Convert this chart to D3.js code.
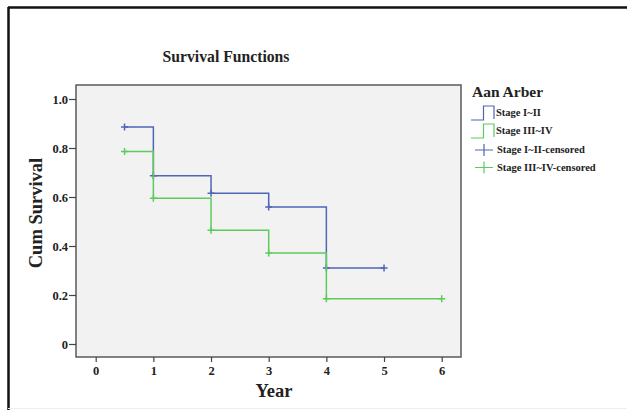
<!DOCTYPE html>
<html>
<head>
<meta charset="utf-8">
<script src="https://cdn.jsdelivr.net/npm/d3@7"></script>
<style>
  body { margin: 0; background: #fff; }
  text { font-family: "Liberation Serif", "Times New Roman", serif; font-weight: bold; fill: #222; }
</style>
</head>
<body>
<svg id="canvas" width="627" height="410"></svg>
<script>
// survival data
var stage12Years = [0.5, 1, 2, 3, 4, 5];
var stage12Surv = [0.886, 0.687, 0.615, 0.559, 0.31, 0.31];
var stage34Years = [0.5, 1, 2, 3, 4, 6];
var stage34Surv = [0.786, 0.595, 0.464, 0.371, 0.185, 0.185];
var xTicks = [0, 1, 2, 3, 4, 5, 6];
var yTicks = [0, 0.2, 0.4, 0.6, 0.8, 1.0];
var legendLabels = ["Stage I~II", "Stage III~IV", "Stage I~II-censored", "Stage III~IV-censored"];

var blue = "#4f66b4", green = "#5ccc5c";

var svg = d3.select("#canvas");

// outer frame (top + left only visible)
svg.append("line").attr("x1", 8).attr("x2", 627).attr("y1", 7.5).attr("y2", 7.5)
    .attr("stroke", "#111").attr("stroke-width", 2.5);
svg.append("line").attr("x1", 8.5).attr("x2", 8.5).attr("y1", 7).attr("y2", 410)
    .attr("stroke", "#111").attr("stroke-width", 2.5);
svg.append("line").attr("x1", 8).attr("x2", 627).attr("y1", 408.5).attr("y2", 408.5)
    .attr("stroke", "#eee").attr("stroke-width", 1);

var plot = {left: 76, right: 461, top: 85, bottom: 357};

var x = d3.scaleLinear().domain([0, 6]).range([95.7, 441.7]);
var y = d3.scaleLinear().domain([0, 1]).range([344, 99]);

svg.append("rect")
    .attr("x", plot.left).attr("y", plot.top)
    .attr("width", plot.right - plot.left).attr("height", plot.bottom - plot.top)
    .attr("fill", "#f2f2f2").attr("stroke", "#5a5a5a").attr("stroke-width", 1.5);

// axes
var yAxis = svg.append("g")
    .attr("transform", "translate(" + plot.left + ",0)")
    .call(d3.axisLeft(y).tickValues(yTicks).tickSize(7).tickPadding(1)
        .tickFormat(function(d) { return d === 0 ? "0" : d3.format(".1f")(d); }));
yAxis.select(".domain").remove();
yAxis.selectAll("line").attr("stroke", "#444").attr("stroke-width", 1.2);
yAxis.selectAll("text").style("font-size", "12.5px").attr("fill", "#222");

var xAxis = svg.append("g")
    .attr("transform", "translate(0," + plot.bottom + ")")
    .call(d3.axisBottom(x).tickValues(xTicks).tickSize(5).tickPadding(4).tickFormat(d3.format("d")));
xAxis.select(".domain").remove();
xAxis.selectAll("line").attr("stroke", "#444").attr("stroke-width", 1.2);
xAxis.selectAll("text").style("font-size", "12.5px").attr("fill", "#222");

// titles
svg.append("text").attr("x", 226).attr("y", 61.5).attr("text-anchor", "middle")
    .style("font-size", "15.7px").text("Survival Functions");
svg.append("text").attr("x", 274).attr("y", 397).attr("text-anchor", "middle")
    .style("font-size", "18.5px").text("Year");
svg.append("text").attr("transform", "translate(42,213) rotate(-90)").attr("text-anchor", "middle")
    .style("font-size", "18.5px").text("Cum Survival");

// step curves
var line = d3.line()
    .x(function(d) { return x(d[0]); })
    .y(function(d) { return y(d[1]); })
    .curve(d3.curveStepAfter);

function drawSeries(years, surv, color) {
    var pts = years.map(function(t, i) { return [t, surv[i]]; });
    svg.append("path").datum(pts)
        .attr("d", line)
        .attr("fill", "none").attr("stroke", color).attr("stroke-width", 1.5);
    // censor marks
    svg.selectAll(null).data(pts).enter().append("path")
        .attr("d", function(d) {
            var cx = x(d[0]), cy = y(d[1]);
            return "M" + (cx - 3.5) + "," + cy + "H" + (cx + 3.5) + "M" + cx + "," + (cy - 3.5) + "V" + (cy + 3.5);
        })
        .attr("stroke", color).attr("stroke-width", 1.5);
}
drawSeries(stage12Years, stage12Surv, blue);
drawSeries(stage34Years, stage34Surv, green);

// legend
var lg = svg.append("g");
lg.append("text").attr("x", 472).attr("y", 97).style("font-size", "15.5px").text("Aan Arber");

var legendColors = [blue, green, blue, green];
var legendY = [116, 134, 153, 170.5];
legendLabels.forEach(function(lab, i) {
    var yy = legendY[i];
    if (i < 2) {
        var base = yy + 4, top = yy - 10;
        lg.append("path")
            .attr("d", "M471," + base + "H483.5V" + top + "H494V" + (base - 1))
            .attr("fill", "none").attr("stroke", legendColors[i]).attr("stroke-width", 1.2);
    } else {
        var cy = yy - 3;
        lg.append("path")
            .attr("d", "M475," + cy + "H493M484," + (cy - 6) + "V" + (cy + 6))
            .attr("stroke", legendColors[i]).attr("stroke-width", 1.2);
    }
    lg.append("text").attr("x", i < 2 ? 496 : 497).attr("y", yy)
        .style("font-size", "10.5px").text(lab);
});
</script>
</body>
</html>
